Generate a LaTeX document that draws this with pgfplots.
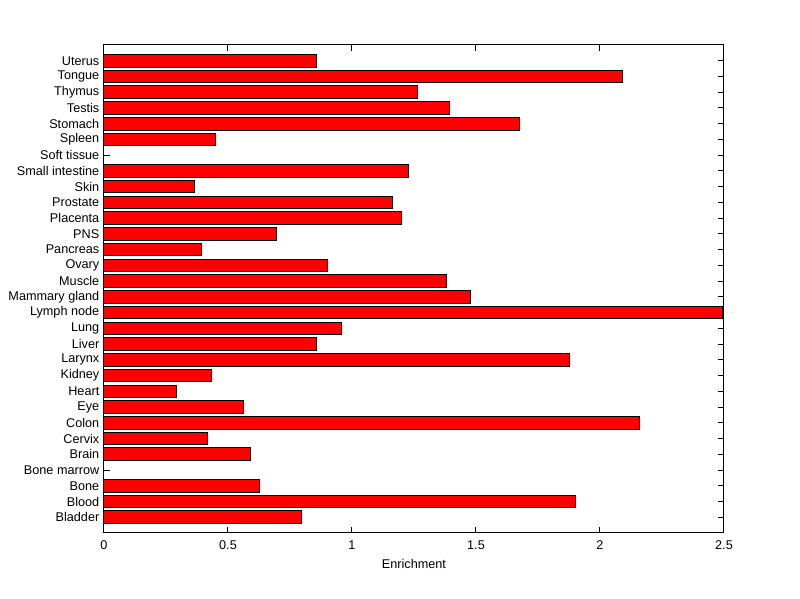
\documentclass[border=0pt]{standalone}
\usepackage{fontspec}
\setmainfont{Liberation Sans}
\usepackage{pgfplots}
\pgfplotsset{compat=1.18}
\begin{document}
\begin{tikzpicture}
\useasboundingbox (-78pt,-49.5pt) rectangle (522pt,399.75pt);
\begin{axis}[
  at={(0,0)}, anchor=south west,
  scale only axis, width=465pt, height=366pt,
  xmin=0, xmax=2.5, ymin=0, ymax=31,
  xbar, bar width=0.8,
  xtick={0,0.5,1,1.5,2,2.5},
  xticklabels={0,0.5,1,1.5,2,2.5},
  ytick={1,...,30},
  yticklabels={Bladder,Blood,Bone,Bone marrow,Brain,Cervix,Colon,Eye,Heart,Kidney,Larynx,Liver,Lung,Lymph node,Mammary gland,Muscle,Ovary,Pancreas,PNS,Placenta,Prostate,Skin,Small intestine,Soft tissue,Spleen,Stomach,Testis,Thymus,Tongue,Uterus},
  tick align=inside,
  major tick length=4.5pt,
  axis line style={line width=0.75pt},
  every tick/.style={black, line width=0.75pt},
  tick label style={font=\fontsize{9.5}{11}\selectfont},
  xticklabel style={yshift=-2.5pt},
  label style={font=\fontsize{9.5}{11}\selectfont},
  /pgf/number format/assume math mode=true,
  xlabel={Enrichment},
  xlabel style={yshift=0pt},
]
\addplot[fill=red, draw=black, line width=0.75pt] coordinates {
(0.796,1) (1.900,2) (0.626,3) (0,4) (0.590,5) (0.418,6) (2.159,7) (0.563,8) (0.292,9) (0.433,10)
(1.876,11) (0.856,12) (0.958,13) (2.493,14) (1.478,15) (1.382,16) (0.900,17) (0.394,18) (0.694,19) (1.200,20)
(1.163,21) (0.364,22) (1.229,23) (0,24) (0.450,25) (1.676,26) (1.394,27) (1.263,28) (2.089,29) (0.856,30)
};
\end{axis}
\end{tikzpicture}
\end{document}
